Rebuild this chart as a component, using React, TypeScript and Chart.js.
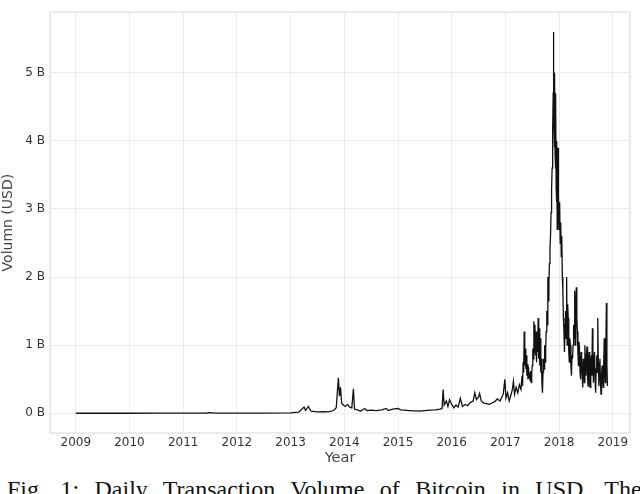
import React, { useEffect, useRef } from "react";
import { Chart, registerables } from "chart.js";

Chart.register(...registerables);

// Decimal years and daily volume (billions of USD), 2009 – 2015
const yearsEarly: number[] = [
  2009.0, 2009.5, 2010.0, 2010.5, 2011.0, 2011.4, 2011.45, 2011.5, 2011.6, 2012.0,
  2012.5, 2013.0, 2013.15, 2013.25, 2013.28, 2013.33, 2013.38, 2013.5, 2013.6, 2013.7,
  2013.8, 2013.85, 2013.87, 2013.89, 2013.91, 2013.93, 2013.95, 2013.98, 2014.02, 2014.06,
  2014.1, 2014.14, 2014.17, 2014.19, 2014.25, 2014.3, 2014.38, 2014.42, 2014.5, 2014.6,
  2014.7, 2014.78, 2014.82, 2014.9, 2015.0, 2015.05, 2015.12, 2015.2, 2015.3, 2015.4,
  2015.5, 2015.6, 2015.7, 2015.78, 2015.82, 2015.84, 2015.86, 2015.9, 2015.93, 2015.96,
];
const volumeEarly: number[] = [
  0.0, 0.0, 0.0, 0.001, 0.001, 0.003, 0.004, 0.008, 0.003, 0.002,
  0.003, 0.006, 0.015, 0.09, 0.04, 0.1, 0.03, 0.02, 0.025, 0.02,
  0.04, 0.08, 0.3, 0.52, 0.25, 0.38, 0.15, 0.12, 0.1, 0.13,
  0.09, 0.08, 0.36, 0.06, 0.05, 0.03, 0.07, 0.04, 0.045, 0.04,
  0.05, 0.07, 0.04, 0.06, 0.07, 0.05, 0.045, 0.04, 0.035, 0.03,
  0.04, 0.045, 0.05, 0.06, 0.07, 0.35, 0.12, 0.18, 0.1, 0.2,
];

// 2016 – early 2017
const yearsMid: number[] = [
  2016.0, 2016.04, 2016.08, 2016.12, 2016.16, 2016.2, 2016.25, 2016.3, 2016.35, 2016.4,
  2016.43, 2016.46, 2016.5, 2016.52, 2016.55, 2016.6, 2016.65, 2016.7, 2016.75, 2016.8,
  2016.85, 2016.9, 2016.93, 2016.96, 2016.99, 2017.01, 2017.04, 2017.07, 2017.1, 2017.13,
  2017.15, 2017.17, 2017.2, 2017.23, 2017.26, 2017.29,
];
const volumeMid: number[] = [
  0.13, 0.08, 0.12, 0.09, 0.22, 0.1, 0.13, 0.11, 0.16, 0.18,
  0.3, 0.2, 0.24, 0.29, 0.18, 0.15, 0.14, 0.13, 0.15, 0.17,
  0.21, 0.18, 0.23, 0.28, 0.5, 0.22, 0.3, 0.18, 0.26, 0.35,
  0.47, 0.28, 0.38, 0.3, 0.42, 0.35,
];

// Spring 2017 – end of 2017
const years2017: number[] = [
  2017.30, 2017.31, 2017.32, 2017.33, 2017.34, 2017.35, 2017.36, 2017.37, 2017.38, 2017.39,
  2017.40, 2017.41, 2017.42, 2017.43, 2017.44, 2017.45, 2017.46, 2017.47, 2017.48, 2017.49,
  2017.50, 2017.51, 2017.52, 2017.53, 2017.54, 2017.55, 2017.56, 2017.57, 2017.58, 2017.59,
  2017.60, 2017.61, 2017.62, 2017.63, 2017.64, 2017.65, 2017.66, 2017.67, 2017.68, 2017.69,
  2017.70, 2017.71, 2017.72, 2017.73, 2017.74, 2017.75, 2017.76, 2017.77, 2017.78, 2017.79,
  2017.80, 2017.81, 2017.82, 2017.83, 2017.84, 2017.85, 2017.86, 2017.87, 2017.88, 2017.89,
  2017.895, 2017.90, 2017.905, 2017.91, 2017.915, 2017.92, 2017.925, 2017.93, 2017.935, 2017.94,
  2017.945, 2017.95, 2017.955, 2017.96, 2017.965, 2017.97, 2017.975, 2017.98, 2017.985, 2017.99,
];
const volume2017: number[] = [
  0.45, 0.55, 0.40, 0.75, 0.60, 1.20, 0.70, 0.95, 0.65, 0.85,
  0.55, 0.72, 0.50, 0.68, 0.52, 0.60, 0.48, 0.62, 0.45, 0.58,
  0.70, 0.95, 0.80, 1.35, 0.90, 1.30, 0.85, 1.20, 0.75, 1.10,
  0.90, 1.40, 0.80, 1.25, 0.70, 1.10, 0.60, 0.80, 0.45, 0.30,
  0.60, 0.80, 0.65, 1.00, 0.75, 0.95, 1.20, 1.50, 1.30, 2.00,
  1.65, 1.90, 2.20, 2.40, 2.60, 2.95, 3.30, 3.60, 4.20, 4.70,
  5.60, 5.00, 4.20, 4.80, 3.90, 5.00, 3.80, 4.60, 3.60, 4.70,
  3.30, 4.00, 3.10, 4.00, 2.70, 3.70, 2.80, 3.90, 3.00, 3.20,
];

// 2018
const years2018: number[] = [
  2018.00, 2018.01, 2018.02, 2018.03, 2018.04, 2018.05, 2018.06, 2018.07, 2018.08, 2018.09,
  2018.10, 2018.11, 2018.12, 2018.13, 2018.14, 2018.15, 2018.16, 2018.17, 2018.18, 2018.19,
  2018.20, 2018.21, 2018.22, 2018.23, 2018.24, 2018.25, 2018.26, 2018.27, 2018.28, 2018.29,
  2018.30, 2018.31, 2018.32, 2018.33, 2018.34, 2018.35, 2018.36, 2018.37, 2018.38, 2018.39,
  2018.40, 2018.41, 2018.42, 2018.43, 2018.44, 2018.45, 2018.46, 2018.47, 2018.48, 2018.49,
  2018.50, 2018.51, 2018.52, 2018.53, 2018.54, 2018.55, 2018.56, 2018.57, 2018.58, 2018.59,
  2018.60, 2018.61, 2018.62, 2018.63, 2018.64, 2018.65, 2018.66, 2018.67, 2018.68, 2018.69,
  2018.70, 2018.71, 2018.72, 2018.73, 2018.74, 2018.75, 2018.76, 2018.77, 2018.78, 2018.79,
  2018.80, 2018.81, 2018.82, 2018.83, 2018.84, 2018.85, 2018.86, 2018.87, 2018.88, 2018.89,
  2018.90,
];
const volume2018: number[] = [
  2.70, 3.10, 2.50, 2.80, 2.30, 2.60, 2.00, 1.80, 1.40, 1.20,
  0.90, 1.30, 1.50, 1.10, 2.00, 1.00, 1.60, 1.40, 0.90, 0.75,
  1.10, 1.00, 0.70, 0.55, 0.85, 0.80, 1.00, 1.30, 1.10, 1.80,
  1.00, 1.50, 1.85, 1.40, 1.20, 0.90, 0.70, 1.05, 0.95, 0.60,
  0.50, 0.90, 0.80, 0.55, 0.38, 0.80, 0.75, 0.45, 1.00, 0.70,
  0.55, 0.85, 0.98, 0.50, 0.40, 0.80, 0.90, 0.50, 0.38, 0.75,
  0.85, 0.55, 1.25, 0.70, 0.45, 0.85, 0.90, 0.50, 0.30, 0.65,
  0.85, 0.60, 1.40, 0.75, 0.40, 0.65, 0.80, 0.45, 0.28, 0.55,
  0.70, 0.50, 0.38, 0.70, 1.10, 0.60, 0.45, 0.90, 1.62, 0.70,
  0.40,
];

const xTickYears: number[] = [2009, 2010, 2011, 2012, 2013, 2014, 2015, 2016, 2017, 2018, 2019];
const yTickValues: number[] = [0, 1, 2, 3, 4, 5];

const frameBorder = {
  id: "frameBorder",
  afterDraw(chart: any) {
    const { ctx, chartArea } = chart;
    ctx.save();
    ctx.strokeStyle = "#e4e4e4";
    ctx.lineWidth = 1.5;
    ctx.strokeRect(chartArea.left, chartArea.top, chartArea.right - chartArea.left, chartArea.bottom - chartArea.top);
    ctx.restore();
  },
};

export default function App() {
  const ref = useRef<HTMLCanvasElement | null>(null);

  useEffect(() => {
    if (!ref.current) return;
    const allYears = [...yearsEarly, ...yearsMid, ...years2017, ...years2018];
    const allVolume = [...volumeEarly, ...volumeMid, ...volume2017, ...volume2018];
    const points = allYears.map((x, i) => ({ x, y: allVolume[i] }));
    const chart = new Chart(ref.current, {
      type: "line",
      data: {
        datasets: [
          {
            data: points,
            borderColor: "#111111",
            borderWidth: 1.3,
            pointRadius: 0,
            tension: 0,
            fill: false,
          },
        ],
      },
      options: {
        animation: false,
        responsive: false,
        layout: { padding: { top: 8, right: 10, left: 0, bottom: 0 } },
        plugins: { legend: { display: false }, tooltip: { enabled: false } },
        scales: {
          x: {
            type: "linear",
            min: 2008.52,
            max: 2019.32,
            afterFit: (s: any) => {
              s.height = 37;
            },
            afterBuildTicks: (s: any) => {
              s.ticks = xTickYears.map((v) => ({ value: v }));
            },
            ticks: {
              includeBounds: false,
              autoSkip: false,
              maxRotation: 0,
              padding: 3,
              color: "#333333",
              font: { family: "DejaVu Sans", size: 12 },
              callback: (v: any) => String(v),
            },
            grid: { color: "#ececec", lineWidth: 1, drawTicks: false },
            border: { display: false },
            title: {
              display: true,
              text: "Year",
              color: "#444444",
              font: { family: "DejaVu Sans", size: 14.5 },
              padding: { top: 0, bottom: 3 },
            },
          },
          y: {
            type: "linear",
            min: -0.29,
            max: 5.89,
            afterFit: (s: any) => {
              s.width = 50;
            },
            afterBuildTicks: (s: any) => {
              s.ticks = yTickValues.map((v) => ({ value: v }));
            },
            ticks: {
              includeBounds: false,
              autoSkip: false,
              padding: 5,
              color: "#333333",
              font: { family: "DejaVu Sans", size: 12 },
              callback: (v: any) => `${v} B`,
            },
            grid: { color: "#ececec", lineWidth: 1, drawTicks: false },
            border: { display: false },
            title: {
              display: true,
              text: "Volumn (USD)",
              color: "#444444",
              font: { family: "DejaVu Sans", size: 14 },
              padding: { top: 0, bottom: 0 },
            },
          },
        },
      },
      plugins: [frameBorder],
    });
    return () => chart.destroy();
  }, []);

  return (
    <div
      style={{
        position: "fixed",
        left: 0,
        top: 0,
        width: 640,
        height: 494,
        overflow: "hidden",
        background: "#ffffff",
      }}
    >
      <canvas ref={ref} width={640} height={470} style={{ display: "block", width: 640, height: 470 }} />
      <div
        style={{
          position: "absolute",
          left: 7,
          top: 477,
          whiteSpace: "nowrap",
          fontFamily: "'Liberation Serif', 'Times New Roman', serif",
          fontSize: 24,
          lineHeight: "24px",
          wordSpacing: 9.4,
          color: "#111111",
        }}
      >
        Fig. 1: Daily Transaction Volume of Bitcoin in USD. The
      </div>
    </div>
  );
}
